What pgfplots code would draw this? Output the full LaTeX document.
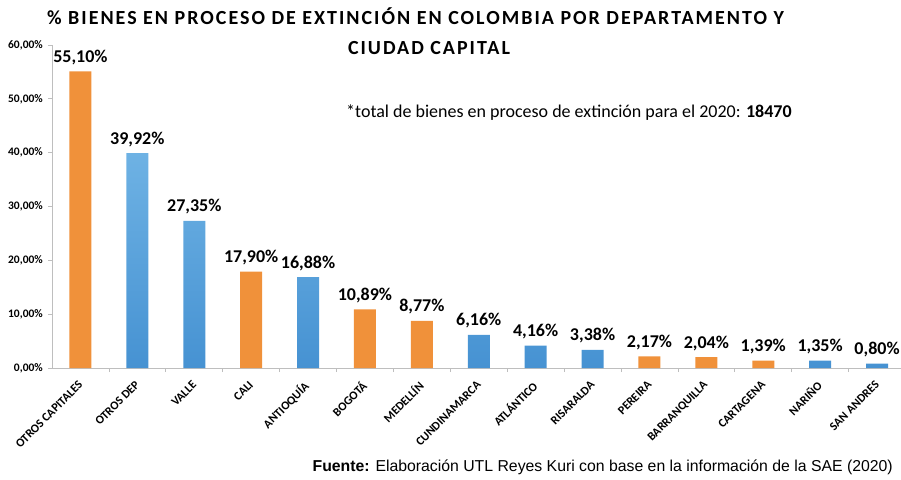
\documentclass[border=0pt]{standalone}
\usepackage{pgfplots}
\pgfplotsset{compat=1.18}
\usepackage{fontspec}
\setmainfont{Carlito}
\newfontfamily\arialf{Liberation Sans}
\newfontfamily\titlef[LetterSpace=10]{Carlito}
\definecolor{orangebar}{RGB}{240,145,58}
\definecolor{bluetop}{RGB}{110,178,228}
\definecolor{bluebot}{RGB}{70,146,210}
\definecolor{axgray}{RGB}{190,190,190}
\newcommand{\rl}[1]{\rotatebox{45}{#1}}
\begin{document}
\begin{tikzpicture}
\useasboundingbox (0,0) rectangle (901pt,479pt);
\begin{axis}[
  at={(52pt,111pt)}, anchor=south west,
  width=853.5pt, height=323pt,
  scale only axis,
  xmin=-0.5, xmax=14.5, ymin=0, ymax=60,
  axis y line*=left, axis x line*=bottom,
  axis line style={axgray, line width=0.8pt},
  ybar, bar width=22pt, bar shift=0pt,
  xtick={0,...,14},
  xticklabels={\rl{OTROS CAPITALES},\rl{OTROS DEP},\rl{VALLE},\rl{CALI},\rl{ANTIOQUÍA},\rl{BOGOTÁ},\rl{MEDELLÍN},\rl{CUNDINAMARCA},\rl{ATLÁNTICO},\rl{RISARALDA},\rl{PEREIRA},\rl{BARRANQUILLA},\rl{CARTAGENA},\rl{NARIÑO},\rl{SAN ANDRES}},
  major x tick style={draw=none},
  minor xtick={0.5,1.5,...,13.5},
  minor x tick style={axgray, line width=0.8pt},
  minor tick length=4pt,
  ytick={0,10,...,60},
  major y tick style={axgray, line width=0.8pt},
  major tick length=4pt,
  tick align=outside,
  yticklabel={\pgfmathprintnumber[fixed,fixed zerofill,precision=2,use comma]{\tick}\%},
  /pgf/number format/assume math mode=true,
  yticklabel style={font=\fontsize{11.5}{13}\selectfont\bfseries, inner sep=0pt, xshift=-5pt},
  xticklabel style={font=\fontsize{12}{14}\selectfont\bfseries, anchor=north east, inner sep=0pt, xshift=3pt, yshift=-8pt},
  nodes near coords={\pgfmathprintnumber[fixed,fixed zerofill,precision=2,use comma]{\pgfplotspointmeta}\%},
  nodes near coords style={font=\fontsize{18}{20}\selectfont\bfseries, anchor=base, yshift=9pt, black},
  clip=false,
]
\addplot[fill=orangebar, draw=none] coordinates {(0,55.10) (3,17.90) (5,10.89) (6,8.77) (10,2.17) (11,2.04) (12,1.39)};
\addplot[top color=bluetop, bottom color=bluebot, draw=none] coordinates {(1,39.92) (2,27.35) (4,16.88) (7,6.16) (8,4.16) (9,3.38) (13,1.35) (14,0.80)};
\end{axis}
\node[font=\titlef\fontsize{20}{22}\selectfont\bfseries, anchor=base] at (415.5pt,454pt) {\% BIENES EN PROCESO DE EXTINCIÓN EN COLOMBIA POR DEPARTAMENTO Y};
\node[font=\titlef\fontsize{20}{22}\selectfont\bfseries, anchor=base] at (429pt,424pt) {CIUDAD CAPITAL};
\node[font=\fontsize{18}{20}\selectfont, anchor=base west, inner sep=0pt] at (346pt,361pt) {*total de bienes en proceso de extinción para el 2020: \textbf{18470}};
\node[font=\arialf\fontsize{15.8}{17}\selectfont, anchor=base east, inner sep=0pt] at (893pt,8pt) {\textbf{Fuente:} Elaboración UTL Reyes Kuri con base en la información de la SAE (2020)};
\end{tikzpicture}
\end{document}
